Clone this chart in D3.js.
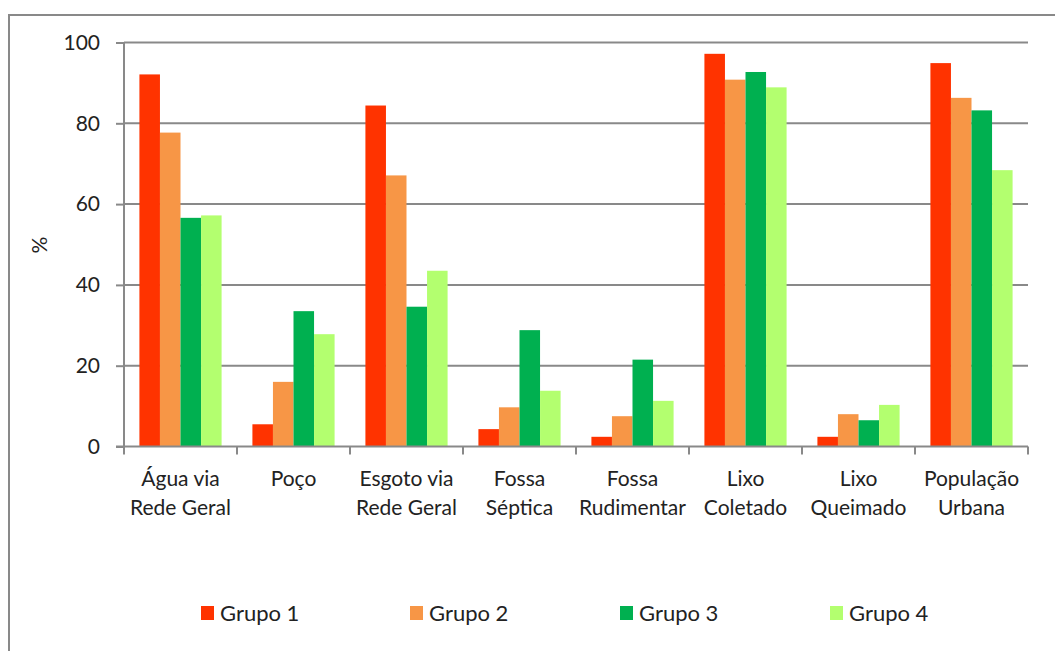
<!DOCTYPE html>
<html><head><meta charset="utf-8">
<script src="https://cdn.jsdelivr.net/npm/d3@7"></script>
<style>body{margin:0;background:#fff}svg{display:block}text{font-family:Lato,"Liberation Sans",sans-serif;fill:#222}</style>
</head><body>
<script>
const categories = [["Água via","Rede Geral"],["Poço"],["Esgoto via","Rede Geral"],["Fossa","Séptica"],["Fossa","Rudimentar"],["Lixo","Coletado"],["Lixo","Queimado"],["População","Urbana"]];
const seriesNames = ["Grupo 1","Grupo 2","Grupo 3","Grupo 4"];
const grupo1 = [92.1, 5.5, 84.4, 4.3, 2.4, 97.2, 2.4, 94.9];
const grupo2 = [77.7, 16.0, 67.1, 9.7, 7.5, 90.8, 8.0, 86.3];
const grupo3 = [56.6, 33.5, 34.6, 28.8, 21.5, 92.7, 6.5, 83.2];
const grupo4 = [57.2, 27.8, 43.5, 13.8, 11.3, 88.9, 10.3, 68.4];
const yTicks = [0, 20, 40, 60, 80, 100];

(function () {
const colors = ["#FF3300","#F79646","#00B050","#B3FF6F"];
const series = [grupo1, grupo2, grupo3, grupo4];

const W = 1055, H = 651;
const svg = d3.select("body").append("svg").attr("width", W).attr("height", H);
const pL = 124, pR = 1028, pT = 42.5, pB = 446.5;
const gray = "#898989";

// outer border (cropped)
svg.append("rect").attr("x", 9).attr("y", 15).attr("width", 1200).attr("height", 800)
  .attr("fill", "none").attr("stroke", gray).attr("stroke-width", 2);

const x0 = d3.scaleBand().domain(d3.range(categories.length)).range([pL, pR]).paddingInner(0).paddingOuter(0);
const x1 = d3.scaleBand().domain(d3.range(4)).range([0, x0.bandwidth()]).paddingInner(0).paddingOuter(0.75);
const y = d3.scaleLinear().domain([0, 100]).range([pB, pT]);

// gridlines
svg.append("g").selectAll("line").data(yTicks.filter(d => d > 0)).join("line")
  .attr("x1", pL).attr("x2", pR).attr("y1", d => y(d)).attr("y2", d => y(d))
  .attr("stroke", gray).attr("stroke-width", 2);

// bars
categories.forEach((c, i) => {
  series.forEach((s, j) => {
    svg.append("rect")
      .attr("x", x0(i) + x1(j))
      .attr("y", y(s[i]))
      .attr("width", x1.bandwidth())
      .attr("height", y(0) - y(s[i]))
      .attr("fill", colors[j]);
  });
});

// y axis
const yAxis = svg.append("g").attr("transform", `translate(${pL},0)`)
  .call(d3.axisLeft(y).tickValues(yTicks).tickSize(8).tickPadding(16));
yAxis.select(".domain").attr("stroke", gray).attr("stroke-width", 2).attr("d", `M0,${pB}V${pT}`);
yAxis.selectAll(".tick line").attr("stroke", gray).attr("stroke-width", 2);
yAxis.selectAll(".tick text").style("font-size", "21px").attr("fill", "#222").style("font-family", "Lato");

// x axis
const xb = svg.append("g");
xb.append("line").attr("x1", pL - 8).attr("x2", pR).attr("y1", pB).attr("y2", pB)
  .attr("stroke", gray).attr("stroke-width", 2);
const bounds = d3.range(categories.length + 1).map(i => i < categories.length ? x0(i) : pR);
xb.selectAll("line.t").data(bounds).join("line").attr("class", "t")
  .attr("x1", d => d).attr("x2", d => d).attr("y1", pB).attr("y2", pB + 8)
  .attr("stroke", gray).attr("stroke-width", 2);
categories.forEach((c, i) => {
  const cx = x0(i) + x0.bandwidth() / 2;
  const t = svg.append("text").attr("text-anchor", "middle").style("font-size", "21px");
  c.forEach((line, k) => t.append("tspan").attr("x", cx).attr("y", 486 + k * 29).text(line));
});

// y label
svg.append("text").attr("transform", "translate(47,245) rotate(-90)").attr("text-anchor", "middle")
  .style("font-size", "21px").text("%");

// legend
const legX = [201, 410, 620, 830];
seriesNames.forEach((n, j) => {
  svg.append("rect").attr("x", legX[j]).attr("y", 606).attr("width", 13).attr("height", 14).attr("fill", colors[j]);
  svg.append("text").attr("x", legX[j] + 19).attr("y", 621).style("font-size", "22px").text(n);
});
})();
</script>
</body></html>
